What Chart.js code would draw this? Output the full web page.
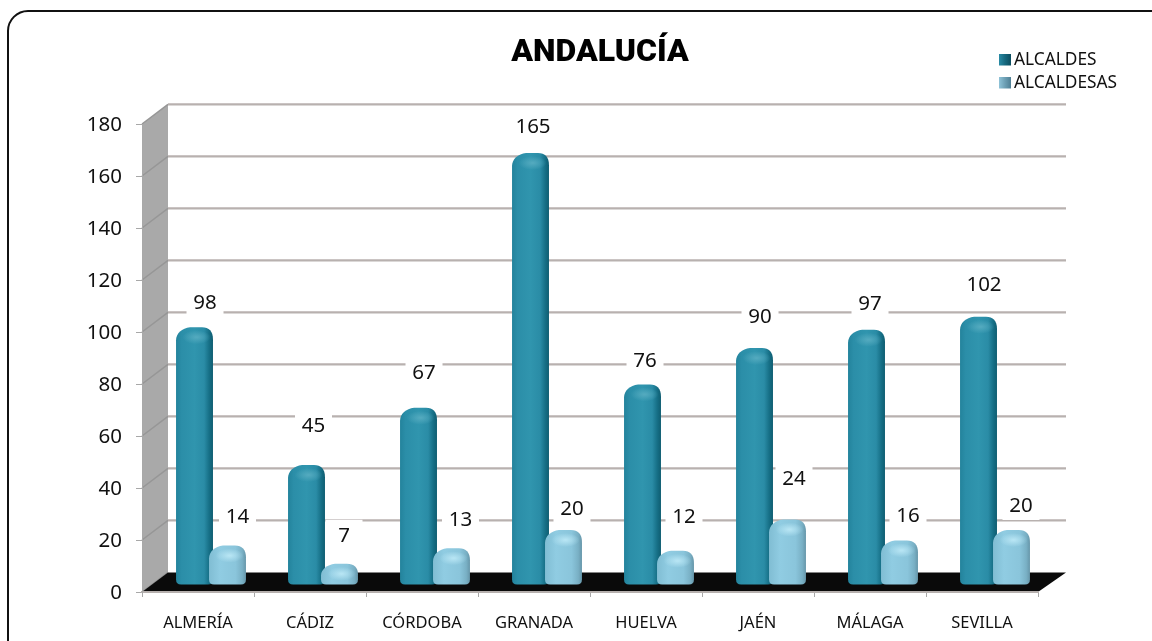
<!DOCTYPE html>
<html><head><meta charset="utf-8">
<style>html,body{margin:0;padding:0;background:#fff}canvas{display:block}</style>
<script src="https://cdn.jsdelivr.net/npm/chart.js@4"></script></head>
<body><canvas id="c" width="1152" height="641"></canvas>
<script>
const categories = ['ALMERÍA','CÁDIZ','CÓRDOBA','GRANADA','HUELVA','JAÉN','MÁLAGA','SEVILLA'];
const alcaldes = [98,45,67,165,76,90,97,102];
const alcaldesas = [14,7,13,20,12,24,16,20];
const seriesNames = ['ALCALDES','ALCALDESAS'];
const titleText = 'ANDALUCÍA';

// label placement relative to each painted bar (layout only)
const gapA = [26,40,36,27,25,32,27,33], shiftA = [10.5,7,5.5,2.5,2.5,5.5,3.5,5.5];
const gapB = [30,29,30,22,35,42,26,25], shiftB = [10,4.5,9,8.5,8.5,6.5,8.5,9.5];
const DX = 13, DY = -10, WX = 26, WY = -19.6;
const FONT = '"Noto Sans"';

function barPaint(ctx, x, top, base, w, stops, hi, hiCenter){
  const l = x - w/2, r = x + w/2, b = base + 3, rt = Math.min(12, (b-top)/2), rb = 5;
  const g = ctx.createLinearGradient(l,0,r,0);
  stops.forEach(s => g.addColorStop(s[0], s[1]));
  ctx.beginPath();
  ctx.moveTo(l, top + rt + 1);
  ctx.bezierCurveTo(l, top+6, l+6, top+1, l+14, top);
  ctx.lineTo(r-11, top);
  ctx.bezierCurveTo(r-4, top, r, top+4, r, top+rt);
  ctx.lineTo(r, b-rb);
  ctx.quadraticCurveTo(r, b, r-rb, b);
  ctx.lineTo(l+rb, b);
  ctx.quadraticCurveTo(l, b, l, b-rb);
  ctx.closePath();
  ctx.fillStyle = g; ctx.fill();
  ctx.save(); ctx.clip();
  ctx.translate(x + 2, top + 10); ctx.scale(1, .5);
  const h = ctx.createRadialGradient(0,0,1,0,0,14);
  h.addColorStop(0, hi); h.addColorStop(1, hiCenter);
  ctx.fillStyle = h; ctx.beginPath(); ctx.arc(0,0,14,0,Math.PI*2); ctx.fill();
  ctx.restore();
}
const darkStops = [[0,'#23839c'],[.15,'#2b8ea8'],[.5,'#3095ae'],[.76,'#2a8ca6'],[.9,'#166f86'],[1,'#0f5d71']];
const lightStops = [[0,'#80bdd3'],[.3,'#90cce2'],[.72,'#8ac5db'],[.9,'#79b0c5'],[1,'#6696a9']];
const darkKey = [[0,'#2a8ba5'],[.5,'#17697f'],[1,'#0c4d5f']];
const lightKey = [[0,'#8fc3d8'],[.5,'#6d9fb4'],[1,'#4f7f94']];

const scene = {
  id:'scene',
  afterLayout(chart){ chart.titleBlock.left += 10; chart.titleBlock.right += 10; },
  beforeDraw(chart){
    const c = chart.ctx, y = chart.scales.y, a = chart.chartArea;
    c.save();
    c.fillStyle='#fff'; c.fillRect(0,0,chart.width,chart.height);
    c.strokeStyle='#111'; c.lineWidth=2;
    c.beginPath(); c.roundRect(8,11,1200,660,20); c.stroke();
    const L=a.left, R=a.right, T=a.top, B=a.bottom;
    c.fillStyle='#a9a9a9';
    c.beginPath(); c.moveTo(L,T); c.lineTo(L+WX,T+WY); c.lineTo(L+WX,B+WY); c.lineTo(L,B); c.closePath(); c.fill();
    y.ticks.forEach(t=>{
      const p=y.getPixelForValue(t.value);
      c.strokeStyle='#969696'; c.lineWidth=1.5;
      c.beginPath(); c.moveTo(L,p); c.lineTo(L+WX,p+WY); c.stroke();
      c.strokeStyle='#b8b1af'; c.lineWidth=2.4;
      if(t.value>0){ c.beginPath(); c.moveTo(L+WX,p+WY); c.lineTo(R+WX+2,p+WY); c.stroke(); }
    });
    c.fillStyle='#0a0a0a';
    c.beginPath(); c.moveTo(L,B); c.lineTo(L+WX,B+WY); c.lineTo(R+WX+2,B+WY); c.lineTo(R,B); c.closePath(); c.fill();
    c.restore();
  },
  beforeDatasetDraw(){ return false; },
  beforeDatasetsDraw(chart){
    const c = chart.ctx;
    [[0,darkStops,'#52a9be','rgba(82,169,190,0)'],[1,lightStops,'#b6e4f3','rgba(182,228,243,0)']].forEach(d=>{
      chart.getDatasetMeta(d[0]).data.forEach(el=>{
        barPaint(c, el.x+DX, el.y+DY, el.base+DY, el.width, d[1], d[2], d[3]);
      });
    });
  },
  afterDatasetsDraw(chart){
    const c = chart.ctx;
    c.save();
    c.textAlign='center'; c.textBaseline='middle';
    c.font='20.5px '+FONT;
    [[0,gapA,shiftA],[1,gapB,shiftB]].forEach(d=>{
      const vals = chart.data.datasets[d[0]].data;
      chart.getDatasetMeta(d[0]).data.forEach((el,i)=>{
        const cx = el.x+DX+d[2][i], cy = el.y+DY-d[1][i], s=String(vals[i]);
        const hw = s.length>2 ? 22 : 18.5;
        c.fillStyle='#fff'; c.fillRect(cx-hw,cy-15,hw*2,30);
        c.fillStyle='#111'; c.fillText(s,cx,cy+1.5);
      });
    });
    // legend
    const ly=[60,83];
    [[darkKey,seriesNames[0]],[lightKey,seriesNames[1]]].forEach((it,i)=>{
      const g=c.createLinearGradient(999,0,1011,0);
      it[0].forEach(s=>g.addColorStop(s[0],s[1]));
      c.fillStyle=g; c.fillRect(999,ly[i]-6,12,11.5);
      c.fillStyle='#111'; c.textAlign='left'; c.font='17.3px '+FONT;
      c.fillText(it[1],1014,ly[i]);
    });
    c.restore();
  }
};

new Chart(document.getElementById('c'),{
  type:'bar',
  data:{labels:categories,datasets:[
    {label:seriesNames[0],data:alcaldes,backgroundColor:'#2a8faa',categoryPercentage:.589,barPercentage:1.12},
    {label:seriesNames[1],data:alcaldesas,backgroundColor:'#8fcbe1',categoryPercentage:.589,barPercentage:1.12}
  ]},
  options:{
    responsive:false,animation:false,
    layout:{padding:{left:50,right:114,top:0,bottom:0}},
    plugins:{
      legend:{display:false},tooltip:{enabled:false},
      title:{display:true,text:titleText,color:'#000',fullSize:false,
        font:{family:'Roboto',size:32,weight:'900'},
        padding:{top:33.5,bottom:52.1},
      }
    },
    scales:{
      x:{border:{color:'#b6b0ae',width:2},grid:{drawOnChartArea:false,color:'#a8a8a8',tickLength:5},
        ticks:{color:'#111',font:{family:'"Noto Sans"',size:16.5},padding:16,maxRotation:0},
        afterFit(s){s.height=49;}},
      y:{min:0,max:180,border:{color:'#a8a8a8',width:1},
        grid:{drawOnChartArea:false,color:'#a8a8a8',tickLength:6},
        ticks:{stepSize:20,color:'#111',font:{family:'"Noto Sans"',size:20.5},padding:14,labelOffset:1.5},
        afterFit(s){s.width=92;}}
    }
  },
  plugins:[scene]
});
</script></body></html>
